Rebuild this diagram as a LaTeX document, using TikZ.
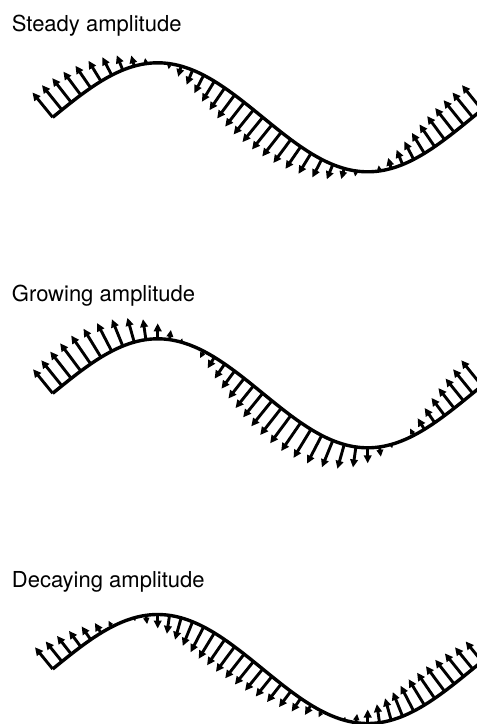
\documentclass[tikz,border=0pt]{standalone}
\usepackage{fontspec}
\setmainfont{TeX Gyre Heros}
\usetikzlibrary{arrows.meta}

\begin{document}
\begin{tikzpicture}[x=0.5pt, y=-0.5pt,
    lbl/.style={anchor=base west, inner sep=0pt, font=\fontsize{11}{13}\selectfont},
    wave/.style={line width=1.7pt, line join=round},
    vec/.style={line width=1.45pt}]
  \useasboundingbox (0,0) rectangle (477,724);
  \clip (0,0) rectangle (477,724);
  % labels
  \node[lbl] (steady) at (11.5,31.7) {Steady amplitude};
  \node[lbl] (growing) at (11.5,301.5) {Growing amplitude};
  \node[lbl] (decaying) at (11.5,587.7) {Decaying amplitude};
  % one period of the wave (420 px), arrows normal to it
  \foreach \yc/\gr/\amp in {117.3/0/32, 393.3/0.5/31, 669/-0.5/28} {
    \draw[wave] plot[domain=0:372, samples=90, smooth, variable=\ph]
      ({52.7+\ph*7/6}, {\yc-54.5*sin(\ph)});
    \foreach \u in {0,9,...,369} {
      \pgfmathsetmacro\ph{\u-3.6*sin(2*\u)}
      \pgfmathsetmacro\px{52.7+\ph*7/6}
      \pgfmathsetmacro\py{\yc-54.5*sin(\ph)}
      \pgfmathsetmacro\nn{sqrt((54.5*cos(\ph))^2+66.85^2)}
      \pgfmathsetmacro\len{\amp*(cos(\ph)+\gr*sin(\ph))}
      \pgfmathsetmacro\tipl{min(4,0.35*abs(\len))}
      \pgfmathsetmacro\tipw{0.95*\tipl}
      \pgfmathtruncatemacro\shown{abs(\len)>2}
      \ifnum\shown=1
        \draw[vec, -{Triangle[length=\tipl pt, width=\tipw pt]}] (\px,\py)
          -- ++({-\len*54.5*cos(\ph)/\nn}, {-\len*66.85/\nn});
      \fi
    }
  }
\end{tikzpicture}
\end{document}
